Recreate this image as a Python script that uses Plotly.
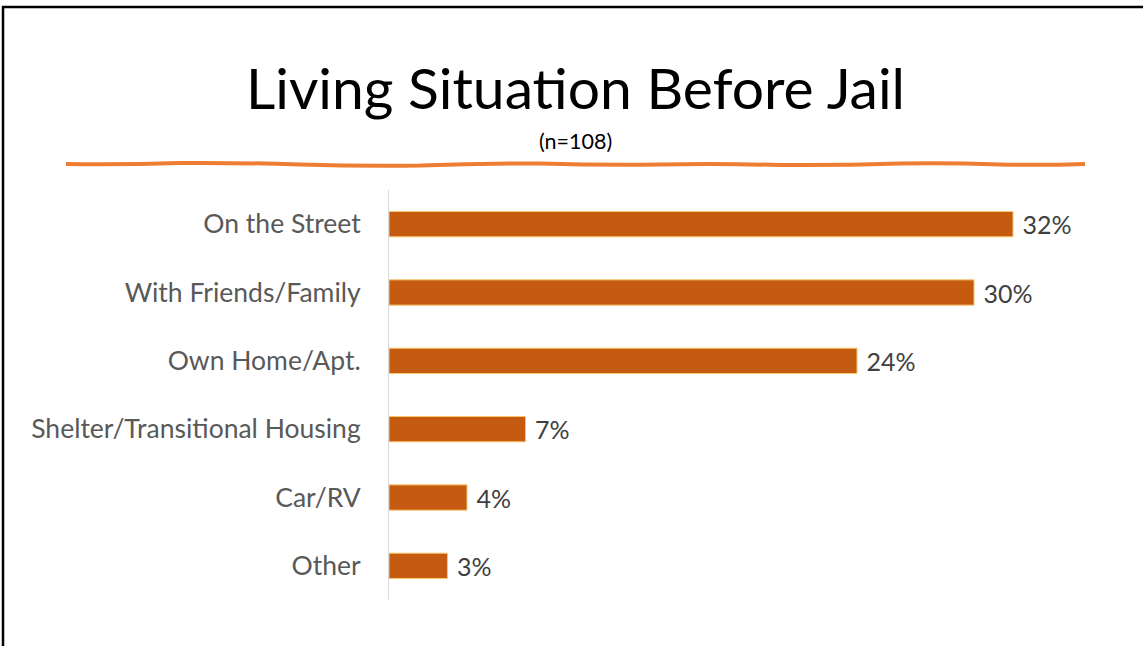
import plotly.graph_objects as go

categories = ["On the Street", "With Friends/Family", "Own Home/Apt.",
              "Shelter/Transitional Housing", "Car/RV", "Other"]
values = [32, 30, 24, 7, 4, 3]
labels = [f"{v}%" for v in values]

W, H = 1143, 646

def px(x):
    return x / W

def py(y):
    return 1 - y / H

fig = go.Figure(go.Bar(
    x=values, y=categories, orientation="h",
    marker=dict(color="#C55A11", line=dict(color="#F9C76B", width=1)),
    text=labels, textposition="outside", cliponaxis=False,
    texttemplate=" %{text}", constraintext="none",
    textfont=dict(family="Lato", size=25, color="#404040"),
    width=0.37,
))

# wavy decorative line (smooth quadratic segments)
pts = [(66, 164), (180, 163), (300, 164.5), (420, 165.5), (540, 163.5), (660, 164.5),
       (780, 165), (900, 163.5), (1000, 164.5), (1085, 164)]
segs = [f"M {px(pts[0][0]):.5f},{py(pts[0][1]):.5f}"]
for (x0, y0), (x1, y1) in zip(pts[:-1], pts[1:]):
    cx, cy = (x0 + x1) / 2, (y0 + y1) / 2 + (1.2 if x0 % 240 < 120 else -1.2)
    segs.append(f"Q {px(cx):.5f},{py(cy):.5f} {px(x1):.5f},{py(y1):.5f}")
path = " ".join(segs)

fig.update_layout(
    width=W, height=H,
    margin=dict(l=0, r=0, t=0, b=0),
    paper_bgcolor="white", plot_bgcolor="white",
    showlegend=False,
    xaxis=dict(domain=[px(389), px(389 + 19.5 * 35)], range=[0, 35],
               visible=False, fixedrange=True),
    yaxis=dict(domain=[py(600), py(190)], autorange="reversed",
               categoryorder="array", categoryarray=categories,
               showline=True, linecolor="#D9D9D9", linewidth=1,
               showgrid=False, ticks="", ticklabelstandoff=22,
               tickfont=dict(family="Lato", size=26.5, color="#595959")),
    shapes=[
        dict(type="line", xref="paper", yref="paper", x0=px(3), x1=px(3), y0=0, y1=py(6),
             line=dict(color="black", width=2.5)),
        dict(type="line", xref="paper", yref="paper", x0=px(2), x1=1, y0=py(7), y1=py(7),
             line=dict(color="black", width=2.5)),
        dict(type="path", xref="paper", yref="paper", path=path,
             line=dict(color="#ED7D31", width=4)),
    ],
    annotations=[
        dict(text="Living Situation Before Jail", xref="paper", yref="paper",
             x=px(575), y=py(87), showarrow=False, xanchor="center", yanchor="middle",
             font=dict(family="Lato", size=57, color="black")),
        dict(text="(n=108)", xref="paper", yref="paper",
             x=px(575), y=py(141), showarrow=False, xanchor="center", yanchor="middle",
             font=dict(family="Lato", size=21.5, color="black")),
    ],
)

fig.write_html("out.html", config={"displayModeBar": False},
               post_script="document.body.style.margin='0';")
